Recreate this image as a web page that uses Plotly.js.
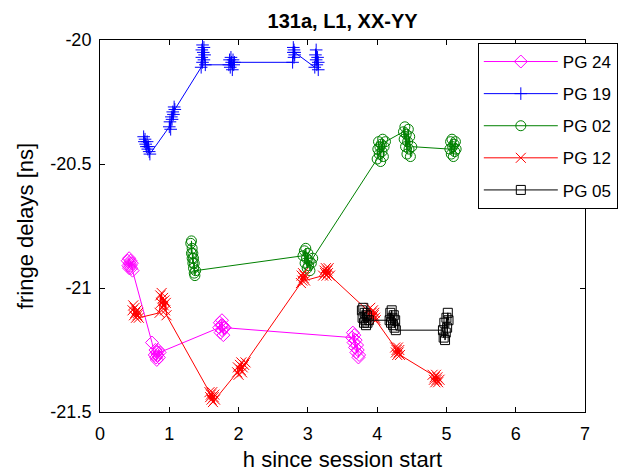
<!DOCTYPE html>
<html>
<head>
<meta charset="utf-8">
<script src="https://cdn.plot.ly/plotly-3.0.1.min.js"></script>
<style>html,body{margin:0;padding:0;background:#fff;}#chart{width:624px;height:474px;}</style>
</head>
<body>
<div id="chart"></div>
<script>
// ---- data (hours since session start, fringe delay in ns) ----
var seriesNames = ["PG 24", "PG 19", "PG 02", "PG 12", "PG 05"];

var pg24X = [0.40,0.41,0.42,0.42,0.43,0.44,0.44,0.45,0.46,0.47,
             0.75,0.79,0.80,0.81,0.82,0.82,0.83,0.84,0.85,0.86,
             1.72,1.73,1.74,1.75,1.76,1.76,1.77,1.78,1.79,1.80,
             3.64,3.65,3.66,3.67,3.68,3.69,3.70,3.71,3.72,3.73,3.74];
var pg24Y = [-20.89,-20.91,-20.88,-20.92,-20.90,-20.91,-20.89,-20.92,-20.90,-20.93,
             -21.22,-21.27,-21.25,-21.28,-21.26,-21.29,-21.27,-21.25,-21.28,-21.26,
             -21.16,-21.14,-21.18,-21.15,-21.13,-21.17,-21.15,-21.19,-21.16,-21.16,
             -21.20,-21.18,-21.22,-21.19,-21.24,-21.21,-21.26,-21.23,-21.25,-21.28,-21.27];

var pg19X = [0.63,0.64,0.65,0.66,0.67,0.68,0.69,0.70,0.71,0.72,
             1.00,1.01,1.02,1.03,1.04,1.05,1.06,1.07,1.08,
             1.46,1.47,1.47,1.48,1.48,1.49,1.50,1.50,1.51,1.52,
             1.86,1.87,1.88,1.89,1.90,1.91,1.92,1.93,1.94,
             2.78,2.79,2.79,2.80,2.80,2.81,2.81,
             3.10,3.11,3.12,3.12,3.13,3.14,3.15,3.15];
var pg19Y = [-20.39,-20.41,-20.40,-20.42,-20.43,-20.41,-20.44,-20.43,-20.45,-20.46,
             -20.35,-20.33,-20.36,-20.31,-20.32,-20.29,-20.30,-20.27,-20.28,
             -20.11,-20.04,-20.07,-20.02,-20.09,-20.05,-20.08,-20.03,-20.06,-20.10,
             -20.10,-20.08,-20.11,-20.07,-20.09,-20.12,-20.08,-20.10,-20.09,
             -20.09,-20.05,-20.03,-20.07,-20.04,-20.06,-20.05,
             -20.11,-20.06,-20.08,-20.04,-20.10,-20.07,-20.12,-20.09];

var pg02X = [1.31,1.32,1.32,1.33,1.33,1.34,1.34,1.35,1.35,1.36,1.36,1.37,1.38,
             2.93,2.95,2.96,2.97,2.98,2.99,3.00,3.01,3.02,3.03,3.05,3.07,
             4.00,4.01,4.02,4.03,4.04,4.05,4.06,4.07,4.08,4.09,4.10,4.12,
             4.38,4.39,4.40,4.41,4.42,4.43,4.44,4.45,4.46,4.47,4.48,4.50,
             5.05,5.06,5.07,5.08,5.09,5.10,5.11,5.12,5.13,5.14];
var pg02Y = [-20.82,-20.86,-20.81,-20.88,-20.84,-20.90,-20.86,-20.92,-20.88,-20.94,-20.90,-20.95,-20.93,
             -20.87,-20.85,-20.90,-20.84,-20.88,-20.92,-20.86,-20.91,-20.89,-20.93,-20.90,-20.88,
             -20.48,-20.44,-20.41,-20.46,-20.43,-20.49,-20.42,-20.45,-20.40,-20.47,-20.43,-20.41,
             -20.37,-20.40,-20.35,-20.43,-20.38,-20.46,-20.41,-20.36,-20.44,-20.39,-20.47,-20.43,
             -20.44,-20.41,-20.46,-20.40,-20.43,-20.47,-20.42,-20.45,-20.41,-20.44];

var pg12X = [0.47,0.48,0.49,0.50,0.51,0.52,0.53,0.54,0.55,0.56,
             0.86,0.87,0.88,0.89,0.90,0.91,0.92,0.93,0.94,0.95,0.96,
             1.58,1.59,1.60,1.61,1.62,1.63,1.64,1.65,1.66,
             1.98,1.99,2.00,2.02,2.03,2.04,2.05,2.06,2.08,2.10,
             2.90,2.91,2.92,2.93,2.94,2.95,2.96,
             3.22,3.24,3.25,3.26,3.27,3.28,3.29,3.30,3.32,
             3.86,3.88,3.90,3.92,3.93,3.94,3.95,3.96,3.97,3.98,
             4.26,4.27,4.28,4.29,4.30,4.31,4.32,4.33,
             4.80,4.82,4.83,4.84,4.85,4.86,4.87,4.88,4.90];
var pg12Y = [-21.09,-21.07,-21.11,-21.08,-21.10,-21.12,-21.09,-21.11,-21.10,-21.12,
             -21.10,-21.03,-21.06,-21.02,-21.08,-21.04,-21.07,-21.05,-21.09,-21.06,-21.11,
             -21.42,-21.44,-21.43,-21.45,-21.42,-21.46,-21.44,-21.43,-21.45,
             -21.34,-21.32,-21.35,-21.31,-21.33,-21.30,-21.34,-21.32,-21.31,-21.30,
             -20.98,-20.95,-20.97,-20.94,-20.96,-20.95,-20.97,
             -20.95,-20.93,-20.94,-20.92,-20.95,-20.93,-20.94,-20.92,-20.95,
             -21.09,-21.11,-21.08,-21.10,-21.12,-21.09,-21.11,-21.10,-21.12,-21.13,
             -21.24,-21.26,-21.25,-21.27,-21.24,-21.26,-21.25,-21.27,
             -21.35,-21.37,-21.36,-21.38,-21.35,-21.37,-21.36,-21.38,-21.37];

var pg05X = [3.78,3.79,3.80,3.81,3.82,3.83,3.84,3.85,3.86,3.88,
             4.18,4.19,4.20,4.21,4.22,4.23,4.24,4.25,4.26,4.27,
             4.95,4.96,4.97,4.98,4.99,5.00,5.01,5.02,5.03];
var pg05Y = [-21.09,-21.12,-21.08,-21.14,-21.10,-21.13,-21.15,-21.11,-21.14,-21.13,
             -21.13,-21.10,-21.14,-21.09,-21.12,-21.15,-21.11,-21.16,-21.13,-21.17,
             -21.17,-21.20,-21.14,-21.21,-21.18,-21.12,-21.16,-21.10,-21.13];

var xTickVals = [0,1,2,3,4,5,6,7];
var xTickText = ["0","1","2","3","4","5","6","7"];
var yTickVals = [-21.5,-21,-20.5,-20];
var yTickText = ["-21.5","-21","-20.5","-20"];

// ---- styling ----
var colors = ["#ff00ff","#0000ff","#008000","#ff0000","#000000"];
var symbols = ["diamond-open","cross-thin-open","circle-open","x-thin-open","square-open"];
var sizes = [10,9,10,10,9];
var xs = [pg24X,pg19X,pg02X,pg12X,pg05X];
var ys = [pg24Y,pg19Y,pg02Y,pg12Y,pg05Y];

var traces = seriesNames.map(function(n,i){
  return {
    type:"scatter", mode:"lines+markers", name:n, x:xs[i], y:ys[i],
    legendgroup:"g"+i,
    line:{color:colors[i], width:1},
    marker:{symbol:symbols[i], size:sizes[i], color:colors[i], line:{color:colors[i], width:1}}
  };
});

var font = "'Liberation Sans', Arial, Helvetica, sans-serif";
var axisCommon = {
  showline:true, linecolor:"#000", linewidth:1, mirror:"ticks",
  ticks:"inside", ticklen:5, tickcolor:"#000", tickwidth:1,
  showgrid:false, zeroline:false, tickfont:{family:font,size:18,color:"#000"}
};

var layout = {
  width:624, height:474,
  margin:{l:100, r:39, t:40, b:62, autoexpand:false},
  paper_bgcolor:"#fff", plot_bgcolor:"#fff",
  font:{family:font, color:"#000"},
  title:{text:"<b>131a, L1, XX-YY</b>", font:{family:font,size:20,color:"#000"},
         x:0.549, xanchor:"center", y:0.955, yanchor:"middle", xref:"container", yref:"container"},
  xaxis:Object.assign({}, axisCommon, {
    range:[0,7], tickvals:xTickVals, ticktext:xTickText, ticklabelstandoff:5,
    title:{text:"h since session start", font:{family:font,size:22,color:"#000"}, standoff:9}
  }),
  yaxis:Object.assign({}, axisCommon, {
    range:[-21.5,-20], tickvals:yTickVals, ticktext:yTickText, ticklabelstandoff:4,
    title:{text:"fringe delays [ns]", font:{family:font,size:22,color:"#000"}, standoff:10}
  }),
  legend:{
    x:0.779, y:0.992, xanchor:"left", yanchor:"top",
    bgcolor:"#fff", bordercolor:"#000", borderwidth:1,
    font:{family:font,size:17,color:"#000"},
    itemwidth:74, traceorder:"grouped", tracegroupgap:7
  },
  showlegend:true
};

Plotly.newPlot("chart", traces, layout, {staticPlot:true, displayModeBar:false});
</script>
</body>
</html>
